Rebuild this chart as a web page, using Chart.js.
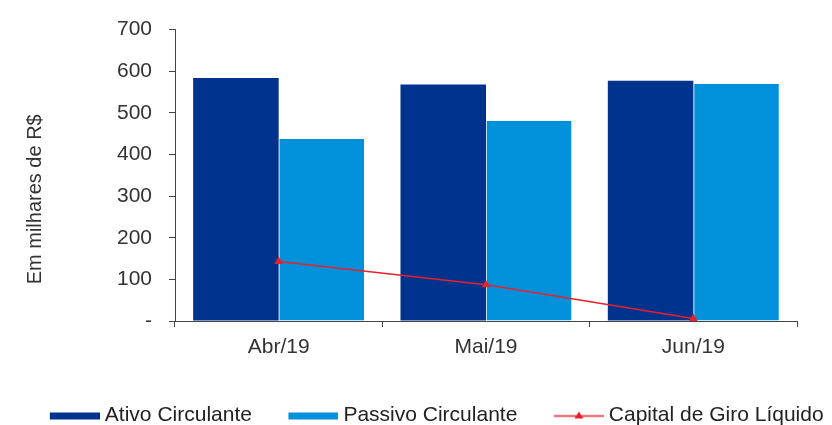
<!DOCTYPE html>
<html>
<head>
<meta charset="utf-8">
<script src="https://cdn.jsdelivr.net/npm/chart.js@4/dist/chart.umd.min.js"></script>
<style>
    html, body { margin: 0; padding: 0; background: #fff; }
    #wrap { width: 832px; height: 425px; position: relative; }
</style>
</head>
<body>
<div id="wrap"><canvas id="chart"></canvas></div>
<script>
// Data (em milhares de R$)
const categories = ['Abr/19', 'Mai/19', 'Jun/19'];
const ativoCirculante = [584, 568, 577];
const passivoCirculante = [437, 481, 570];
const capitalGiroLiquido = [143, 87, 6];
const yMax = 700;
const yStep = 100;

const FONT = "'Liberation Sans', Arial, sans-serif";
const TEXT = '#333';
const AXIS = '#444';
const DARK = '#00338d';
const LIGHT = '#0091da';
const RED = '#e8202a';

// Legend icons: wide box / line with a triangle, with a transparent left margin
function legendIcon(kind, color) {
    const c = document.createElement('canvas');
    c.width = 79;
    c.height = 14;
    const g = c.getContext('2d');
    if (kind === 'bar') {
        g.fillStyle = color;
        g.fillRect(29, 4, 50, 7);
    } else {
        g.strokeStyle = color;
        g.lineWidth = 1.5;
        g.beginPath();
        g.moveTo(29, 7.5);
        g.lineTo(79, 7.5);
        g.stroke();
        g.fillStyle = color;
        g.beginPath();
        g.moveTo(54, 3);
        g.lineTo(58.5, 10);
        g.lineTo(49.5, 10);
        g.closePath();
        g.fill();
    }
    return c;
}
const icons = [legendIcon('bar', DARK), legendIcon('bar', LIGHT), legendIcon('line', RED)];

// nudges the legend row to where it sits in the reference
const legendShift = {
    id: 'legendShift',
    afterLayout(chart) {
        const lg = chart.legend;
        lg.left += 9; lg.right += 9;
        lg.top += 11; lg.bottom += 11;
    }
};

// rotated y axis title, a bit below the middle of the axis like in the reference
const yTitle = {
    id: 'yTitle',
    afterDraw(chart) {
        const ctx = chart.ctx;
        const area = chart.chartArea;
        ctx.save();
        ctx.translate(35.5, (area.top + area.bottom) / 2 + 24);
        ctx.rotate(-Math.PI / 2);
        ctx.font = '20px ' + FONT;
        ctx.fillStyle = TEXT;
        ctx.textAlign = 'center';
        ctx.textBaseline = 'middle';
        ctx.fillText('Em milhares de R$', 0, 0);
        ctx.restore();
    }
};

new Chart(document.getElementById('chart'), {
    data: {
        labels: categories,
        datasets: [{
            type: 'bar',
            label: 'Ativo Circulante',
            data: ativoCirculante,
            backgroundColor: DARK,
            borderWidth: 0,
            order: 1
        }, {
            type: 'bar',
            label: 'Passivo Circulante',
            data: passivoCirculante,
            backgroundColor: LIGHT,
            borderColor: '#bfe3f7',
            borderWidth: { left: 1, top: 0, right: 0, bottom: 0 },
            borderSkipped: false,
            order: 1
        }, {
            type: 'line',
            label: 'Capital de Giro Líquido',
            data: capitalGiroLiquido,
            borderColor: RED,
            borderWidth: 1.5,
            pointStyle: 'triangle',
            pointRadius: 5,
            pointBackgroundColor: RED,
            pointBorderColor: RED,
            pointBorderWidth: 0,
            tension: 0,
            order: 0
        }]
    },
    options: {
        responsive: true,
        maintainAspectRatio: false,
        animation: false,
        datasets: {
            bar: { categoryPercentage: 0.825, barPercentage: 1.0 }
        },
        layout: { padding: { top: 26, left: 0, right: 0, bottom: 0 } },
        plugins: {
            tooltip: { enabled: false },
            legend: {
                position: 'bottom',
                align: 'center',
                labels: {
                    usePointStyle: true,
                    pointStyleWidth: 68,
                    padding: 13,
                    color: '#222',
                    font: { size: 21, family: FONT },
                    sort: (a, b) => a.datasetIndex - b.datasetIndex,
                    generateLabels: function (chart) {
                        const items = Chart.defaults.plugins.legend.labels.generateLabels(chart);
                        items.forEach(function (it) {
                            it.pointStyle = icons[it.datasetIndex];
                        });
                        return items;
                    }
                }
            }
        },
        scales: {
            x: {
                grid: { drawOnChartArea: false, tickLength: 6, color: AXIS, offset: true },
                border: { color: AXIS },
                ticks: { color: TEXT, padding: 8, font: { size: 21, family: FONT } },
                afterFit: function (s) { s.height = 60; }
            },
            y: {
                min: 0,
                max: yMax,
                grid: { drawOnChartArea: false, tickLength: 6, color: AXIS },
                border: { color: AXIS },
                ticks: {
                    stepSize: yStep,
                    padding: 17,
                    color: TEXT,
                    font: { size: 21, family: FONT },
                    callback: function (v) { return v === 0 ? '-' : v; }
                },
                afterFit: function (s) { s.width = 175; }
            },
            y2: {
                position: 'right',
                grid: { display: false },
                border: { display: false },
                ticks: { display: false },
                afterFit: function (s) { s.width = 35; }
            }
        }
    },
    plugins: [legendShift, yTitle]
});
</script>
</body>
</html>
